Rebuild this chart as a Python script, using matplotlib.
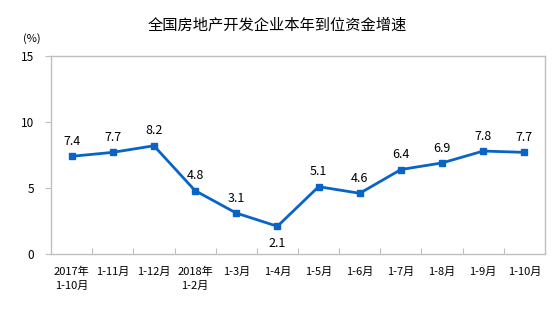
import matplotlib
matplotlib.use('Agg')
import matplotlib.pyplot as plt

plt.rcParams['font.family'] = ['Noto Sans CJK SC', 'DejaVu Sans']

title = '全国房地产开发企业本年到位资金增速'
categories = ['2017年\n1-10月', '1-11月', '1-12月', '2018年\n1-2月', '1-3月', '1-4月',
              '1-5月', '1-6月', '1-7月', '1-8月', '1-9月', '1-10月']
growth = [7.4, 7.7, 8.2, 4.8, 3.1, 2.1, 5.1, 4.6, 6.4, 6.9, 7.8, 7.7]
yticks = [0, 5, 10, 15]

line_color = '#0a64c8'
frame_color = '#bfbfbf'

fig = plt.figure(figsize=(5.54, 3.29), dpi=100)
ax = fig.add_axes([51 / 554, 1 - 254 / 329, 494 / 554, 198 / 329])

x = list(range(len(growth)))
ax.plot(x, growth, color=line_color, linewidth=2, marker='s', markersize=5,
        markerfacecolor=line_color, markeredgecolor=line_color)

for i, v in enumerate(growth):
    # the trough label sits under its point
    if i == 5:
        ax.annotate(f'{v}', (i, v), xytext=(0, -8), textcoords='offset points',
                    ha='center', va='top', fontsize=9)
    else:
        ax.annotate(f'{v}', (i, v), xytext=(0, 6), textcoords='offset points',
                    ha='center', va='bottom', fontsize=9)

ax.set_xlim(-0.5, len(growth) - 0.5)
ax.set_ylim(0, 15)
ax.set_yticks(yticks)
ax.set_yticklabels([str(t) for t in yticks], fontsize=8.5)
ax.set_xticks([i + 0.5 for i in range(len(growth) - 1)])
ax.set_xticklabels([])
ax.tick_params(axis='x', direction='in', length=4, color=frame_color)
ax.tick_params(axis='y', direction='out', length=4, color=frame_color, pad=8)

for i, lab in enumerate(categories):
    ax.text(i, -0.065, lab, transform=ax.get_xaxis_transform(), ha='center', va='top',
            fontsize=8, linespacing=1.45)

for s in ax.spines.values():
    s.set_color(frame_color)
    s.set_linewidth(1)

fig.text(0.5, 1 - 25 / 329, title, ha='center', va='center', fontsize=11)
fig.text(32 / 554, 1 - 39 / 329, '(%)', ha='center', va='center', fontsize=8)

fig.savefig('out.png', dpi=100)
